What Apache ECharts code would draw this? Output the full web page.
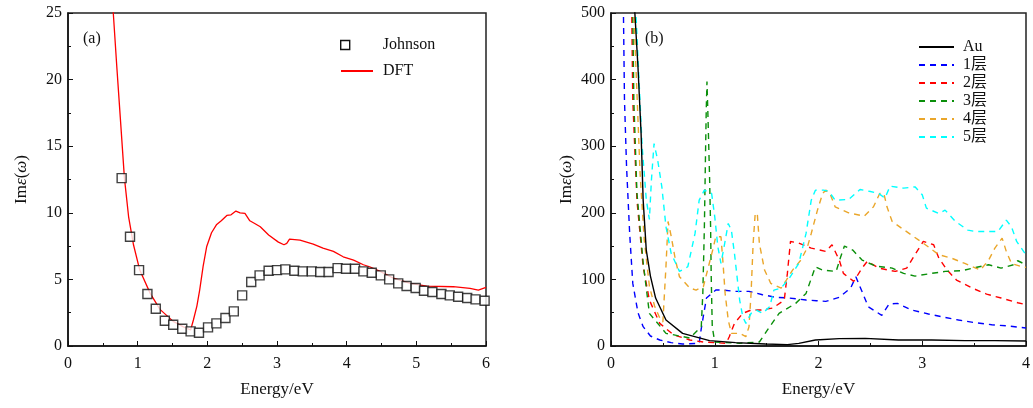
<!DOCTYPE html>
<html><head><meta charset="utf-8">
<script src="https://cdn.jsdelivr.net/npm/echarts@6/dist/echarts.min.js"></script>
<style>html,body{margin:0;padding:0;background:#fff}#c{width:1033px;height:408px}</style>
</head><body><div id="c"></div>
<script>
// ---- Panel (a) data ----
const johnsonX = [0.77,0.89,1.02,1.14,1.26,1.39,1.51,1.64,1.76,1.88,2.01,2.13,2.26,2.38,2.50,2.63,2.75,2.88,3.00,3.12,3.25,3.37,3.50,3.62,3.74,3.87,3.99,4.12,4.24,4.36,4.49,4.61,4.74,4.86,4.99,5.11,5.23,5.36,5.48,5.60,5.73,5.85,5.98];
const johnsonY = [12.6,8.2,5.7,3.9,2.8,1.9,1.6,1.3,1.1,1.0,1.4,1.7,2.1,2.6,3.8,4.8,5.3,5.65,5.7,5.75,5.65,5.6,5.6,5.55,5.55,5.85,5.8,5.8,5.6,5.5,5.3,5.0,4.7,4.5,4.35,4.15,4.05,3.9,3.8,3.7,3.6,3.5,3.4];
const dftX = [0.60,0.65,0.70,0.75,0.81,0.87,0.94,1.03,1.18,1.32,1.51,1.65,1.76,1.80,1.85,1.89,1.94,1.99,2.06,2.13,2.20,2.28,2.34,2.41,2.47,2.54,2.61,2.68,2.76,2.88,3.02,3.10,3.14,3.18,3.33,3.52,3.66,3.81,3.95,4.10,4.24,4.33,4.48,4.67,4.91,5.15,5.53,5.77,5.89,6.0];
const dftY = [31,25,21,17.2,12.6,9.7,7.6,5.7,3.95,2.75,1.85,1.45,1.2,1.95,3.0,4.2,6.0,7.45,8.5,9.1,9.4,9.8,9.85,10.13,10.0,9.95,9.4,9.2,8.95,8.33,7.8,7.6,7.7,8.03,7.95,7.65,7.35,7.1,6.7,6.45,6.1,5.95,5.6,5.1,4.7,4.5,4.45,4.33,4.2,4.4];

// ---- Panel (b) data ----
const auX = [0.22,0.23,0.26,0.29,0.31,0.34,0.38,0.43,0.53,0.69,0.95,1.20,1.49,1.70,1.81,1.97,2.20,2.45,2.77,3.09,3.41,3.70,4.0];
const auY = [560,500,419,319,219,144,105,72,39,19,8,5,3,2,4,9,11,11.5,9,9,8,8,7.5];
const l1X = [0.11,0.12,0.13,0.15,0.18,0.21,0.26,0.31,0.38,0.47,0.58,0.69,0.85,0.87,0.92,1.01,1.08,1.20,1.33,1.46,1.59,1.72,1.88,1.98,2.07,2.20,2.31,2.36,2.40,2.48,2.61,2.68,2.76,2.90,3.06,3.22,3.35,3.51,3.67,3.83,4.0];
const l1Y = [560,500,369,269,169,94,50,29,15,9,5,3,4,26,72,84,84,82,82,77,73,72,69,68,67,73,87,104,89,59,46,63,64,54,48,43,39,35,32,30,27];
const l2X = [0.19,0.20,0.21,0.25,0.31,0.37,0.47,0.60,0.76,0.89,1.11,1.14,1.19,1.27,1.35,1.45,1.56,1.67,1.70,1.73,1.80,1.93,2.07,2.13,2.20,2.24,2.34,2.42,2.47,2.58,2.74,2.85,2.93,3.01,3.11,3.16,3.24,3.33,3.48,3.62,3.76,3.92,4.0];
const l2Y = [560,500,369,219,119,69,34,17,9,6,4,14,34,49,54,54,57,69,109,157,155,147,142,152,129,109,97,117,127,117,112,117,137,157,152,132,114,99,87,78,72,65,62];
const l3X = [0.20,0.21,0.22,0.25,0.31,0.37,0.53,0.76,0.87,0.885,0.90,0.91,0.918,0.925,0.933,0.95,0.96,0.966,0.976,1.0,1.24,1.43,1.53,1.62,1.78,1.88,1.97,2.04,2.17,2.21,2.25,2.33,2.42,2.55,2.71,2.82,2.93,3.09,3.22,3.38,3.49,3.64,3.76,3.88,3.92,4.0];
const l3Y = [560,500,369,230,125,49,19,12,29,79,179,279,354,397,354,254,179,104,29,6,4,6,29,49,64,79,119,114,112,132,150,144,129,120,117,109,105,109,112,113,117,122,117,122,128,122];
const l4X = [0.21,0.22,0.25,0.28,0.32,0.37,0.42,0.47,0.50,0.53,0.55,0.58,0.62,0.66,0.76,0.82,0.89,0.98,1.01,1.06,1.08,1.10,1.13,1.16,1.24,1.30,1.33,1.35,1.37,1.39,1.41,1.43,1.48,1.54,1.64,1.69,1.75,1.83,1.89,1.93,1.99,2.04,2.07,2.11,2.16,2.29,2.44,2.53,2.59,2.63,2.66,2.71,2.80,2.92,3.03,3.16,3.28,3.41,3.56,3.64,3.70,3.77,3.81,3.86,3.96,4.0];
const l4Y = [560,500,380,260,160,90,60,42,36,120,187,165,130,104,87,84,89,144,164,164,124,79,39,19,19,14,29,79,154,199,199,154,114,94,87,99,114,129,147,169,204,229,234,229,209,200,195,209,229,229,209,187,177,164,152,137,132,124,114,129,147,162,142,124,119,118];
const l5X = [0.23,0.24,0.27,0.30,0.34,0.37,0.39,0.415,0.45,0.49,0.53,0.58,0.66,0.74,0.81,0.85,0.90,0.97,1.00,1.03,1.06,1.09,1.13,1.16,1.19,1.24,1.27,1.30,1.35,1.40,1.46,1.53,1.57,1.64,1.72,1.81,1.88,1.93,1.97,2.05,2.10,2.16,2.29,2.40,2.50,2.58,2.64,2.69,2.82,2.93,3.00,3.04,3.16,3.22,3.32,3.44,3.51,3.60,3.73,3.81,3.86,3.91,3.99];
const l5Y = [560,500,400,300,220,190,250,304,279,239,179,139,112,119,169,219,234,229,194,149,124,149,184,174,139,69,44,34,49,54,49,59,84,87,102,124,169,219,234,234,232,219,220,235,232,229,222,240,237,239,227,207,199,204,187,174,172,172,172,189,179,157,139];

const xTicksA = [0,6,1];
const yTicksA = [0,25,5];
const xTicksB = [0,4,1];
const yTicksB = [0,500,100];

const names = ['Au','1层','2层','3层','4层','5层'];
const colors = ['#000000','#0000ff','#ff0000','#0a8f0a','#eaa62a','#00ffff'];
const bX = [auX,l1X,l2X,l3X,l4X,l5X];
const bY = [auY,l1Y,l2Y,l3Y,l4Y,l5Y];

const zip = (a,b)=>a.map((v,i)=>[v,b[i]]);
const SERIF = '"Liberation Serif","DejaVu Serif",serif';
const labelFont = {fontFamily: SERIF, fontSize: 16, color: '#111'};

function xAxis(idx, t){
  return {gridIndex: idx, type:'value', min:t[0], max:t[1], interval:t[2],
    name:'Energy/eV', nameLocation:'middle', nameGap:35,
    nameTextStyle:{fontFamily:SERIF,fontSize:17,color:'#111'},
    axisLine:{show:true,lineStyle:{color:'#111',width:1.5}},
    axisTick:{show:true,inside:true,length:5,lineStyle:{color:'#111'}},
    minorTick:{show:true,splitNumber:2,length:3,lineStyle:{color:'#111'}},
    splitLine:{show:false}, axisLabel:Object.assign({margin:10}, labelFont)};
}
function yAxis(idx, t){
  return {gridIndex: idx, type:'value', min:t[0], max:t[1], interval:t[2],
    name:'Im{i|ε}({i|ω})', nameLocation:'middle', nameGap: idx===0?38:36, nameRotate:90,
    nameTextStyle:{fontFamily:SERIF,fontSize:17,color:'#111',
      rich:{i:{fontFamily:SERIF,fontSize:17,fontStyle:'italic',color:'#111'}}},
    axisLine:{show:true,lineStyle:{color:'#111',width:1.5}},
    axisTick:{show:true,inside:true,length:5,lineStyle:{color:'#111'}},
    minorTick:{show:true,splitNumber:2,length:3,lineStyle:{color:'#111'}},
    splitLine:{show:false}, axisLabel:Object.assign({margin:6}, labelFont)};
}

const series = [
  {name:'Johnson', type:'scatter', xAxisIndex:0, yAxisIndex:0, symbol:'rect', symbolSize:9,
   itemStyle:{color:'#fff', borderColor:'#111', borderWidth:1.4}, data: zip(johnsonX, johnsonY), z:3},
  {name:'DFT', type:'line', xAxisIndex:0, yAxisIndex:0, symbol:'none', clip:true,
   lineStyle:{color:'#ff0000', width:1.3}, itemStyle:{color:'#ff0000'}, data: zip(dftX, dftY), z:2}
];
names.forEach((n,i)=>{
  series.push({name:n, type:'line', xAxisIndex:1, yAxisIndex:1, symbol:'none', clip:true,
    lineStyle:{color:colors[i], width: 1.4, type: i===0?'solid':[6,5]},
    itemStyle:{color:colors[i]}, data: zip(bX[i], bY[i]), z: i===0?5:2});
});

const chart = echarts.init(document.getElementById('c'));
chart.setOption({
  animation:false,
  backgroundColor:'#fff',
  grid:[
    {left:68, right:547, top:13, bottom:62, show:true, borderColor:'#222', borderWidth:1.5, backgroundColor:'transparent'},
    {left:611, right:5, top:13, bottom:62, show:true, borderColor:'#222', borderWidth:1.5, backgroundColor:'transparent'}
  ],
  xAxis:[xAxis(0,xTicksA), xAxis(1,xTicksB)],
  yAxis:[yAxis(0,yTicksA), yAxis(1,yTicksB)],
  legend:[
    {data:[{name:'Johnson', icon:'rect', itemStyle:{color:'#fff',borderColor:'#111',borderWidth:1.4,opacity:1}}],
     left:340, top:37, padding:0, itemWidth:9, itemHeight:9, selectedMode:false,
     textStyle:{fontFamily:SERIF,fontSize:16,color:'#111',padding:[0,0,0,28]}},
    {data:['DFT'], left:340, top:63, padding:0, itemWidth:32, itemHeight:10, selectedMode:false,
     itemStyle:{opacity:0},
     textStyle:{fontFamily:SERIF,fontSize:16,color:'#111',padding:[0,0,0,5]}},
    {data:names, orient:'vertical', left:918, top:39, padding:0, itemWidth:35, itemHeight:10, itemGap:2, selectedMode:false,
     itemStyle:{opacity:0},
     textStyle:{fontFamily:'"Liberation Serif","Noto Sans CJK SC",serif',fontSize:16,color:'#111',padding:[0,0,0,4]}}
  ],
  graphic:[
    {type:'text', left:83, top:31, style:{text:'(a)', font:'16px '+SERIF, fill:'#111'}},
    {type:'text', left:645, top:31, style:{text:'(b)', font:'16px '+SERIF, fill:'#111'}}
  ],
  series: series
});
</script></body></html>
